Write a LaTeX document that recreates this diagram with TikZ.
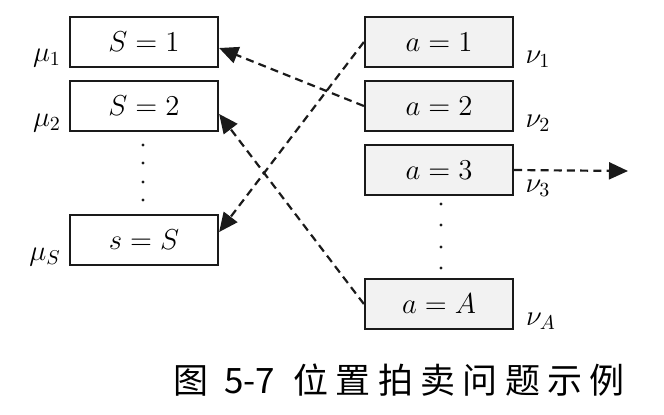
\documentclass[tikz,border=0pt]{standalone}
\usepackage{fontspec}
\newfontfamily\cjk{Noto Sans CJK SC}
\newfontfamily\cjkwide[LetterSpace=21]{Noto Sans CJK SC}
\usepackage{tikz}
\usetikzlibrary{positioning,arrows.meta}
\definecolor{boxLine}{HTML}{1A1A1A}
\definecolor{boxFillR}{HTML}{F2F2F2}
\definecolor{linkLine}{HTML}{1A1A1A}
\tikzset{
  slot box/.style ={draw=boxLine,line width=1.15pt,fill=white,
                    minimum width=74pt,minimum height=25pt,inner sep=0pt,
                    font=\fontsize{15}{17}\selectfont},
  ad box/.style   ={slot box,fill=boxFillR},
  bid link/.style ={draw=linkLine,line width=1.1pt,dashed,
                    dash pattern=on 4pt off 2.6pt,
                    -{Triangle[length=9.5pt,width=8.5pt]}},
  vdot/.style     ={fill=boxLine},
}
\newcommand{\dotcol}[2]{%
  \foreach \yy in {#2}
    \fill[vdot] (#1,\yy) circle (0.8pt);%
}

\begin{document}
\begin{tikzpicture}[x=0.5pt,y=-0.5pt,
          every node/.style={font=\fontsize{14}{16}\selectfont},
        ]
        \useasboundingbox (0,0) rectangle (664,414);
        % slots on the left
        \node[slot box] (S1) at (144, 42)  {$S=1$};
        \node[slot box] (S2) at (144,106)  {$S=2$};
        \node[slot box] (SS) at (144,240)  {$s=S$};
        \node (m1) at (47, 58)  {$\mu_1$};
        \node (m2) at (47,123)  {$\mu_2$};
        \node (mS) at (45,257)  {$\mu_S$};
        \dotcol{143}{145,163,182,200}
        % advertisers on the right
        \node[ad box] (a1) at (439, 42)  {$a=1$};
        \node[ad box] (a2) at (439,106)  {$a=2$};
        \node[ad box] (a3) at (439,170)  {$a=3$};
        \node[ad box] (aA) at (439,304)  {$a=A$};
        \node (n1) at (538, 59)  {$\nu_1$};
        \node (n2) at (538,123)  {$\nu_2$};
        \node (n3) at (538,188)  {$\nu_3$};
        \node (nA) at (541,321)  {$\nu_A$};
        \dotcol{441}{204,225,247,268}
        \coordinate (out) at (628,171);
        % links
        \draw[bid link] (a2.west) -- ([yshift=-3pt]S1.east);
        \draw[bid link] (a1.west) -- ([yshift=4pt]SS.east);
        \draw[bid link] (aA.west) -- ([yshift=-4pt]S2.east);
        \draw[bid link] (a3.east) -- (out);
        \node[font=\cjk\fontsize{17.5}{20}\selectfont,inner sep=0pt,
              anchor=west] (cap) at (173,380)
              {图\hspace{8pt}5-7\hspace{9pt}{\cjkwide 位置拍卖问题示例}};
      \end{tikzpicture}
\end{document}
